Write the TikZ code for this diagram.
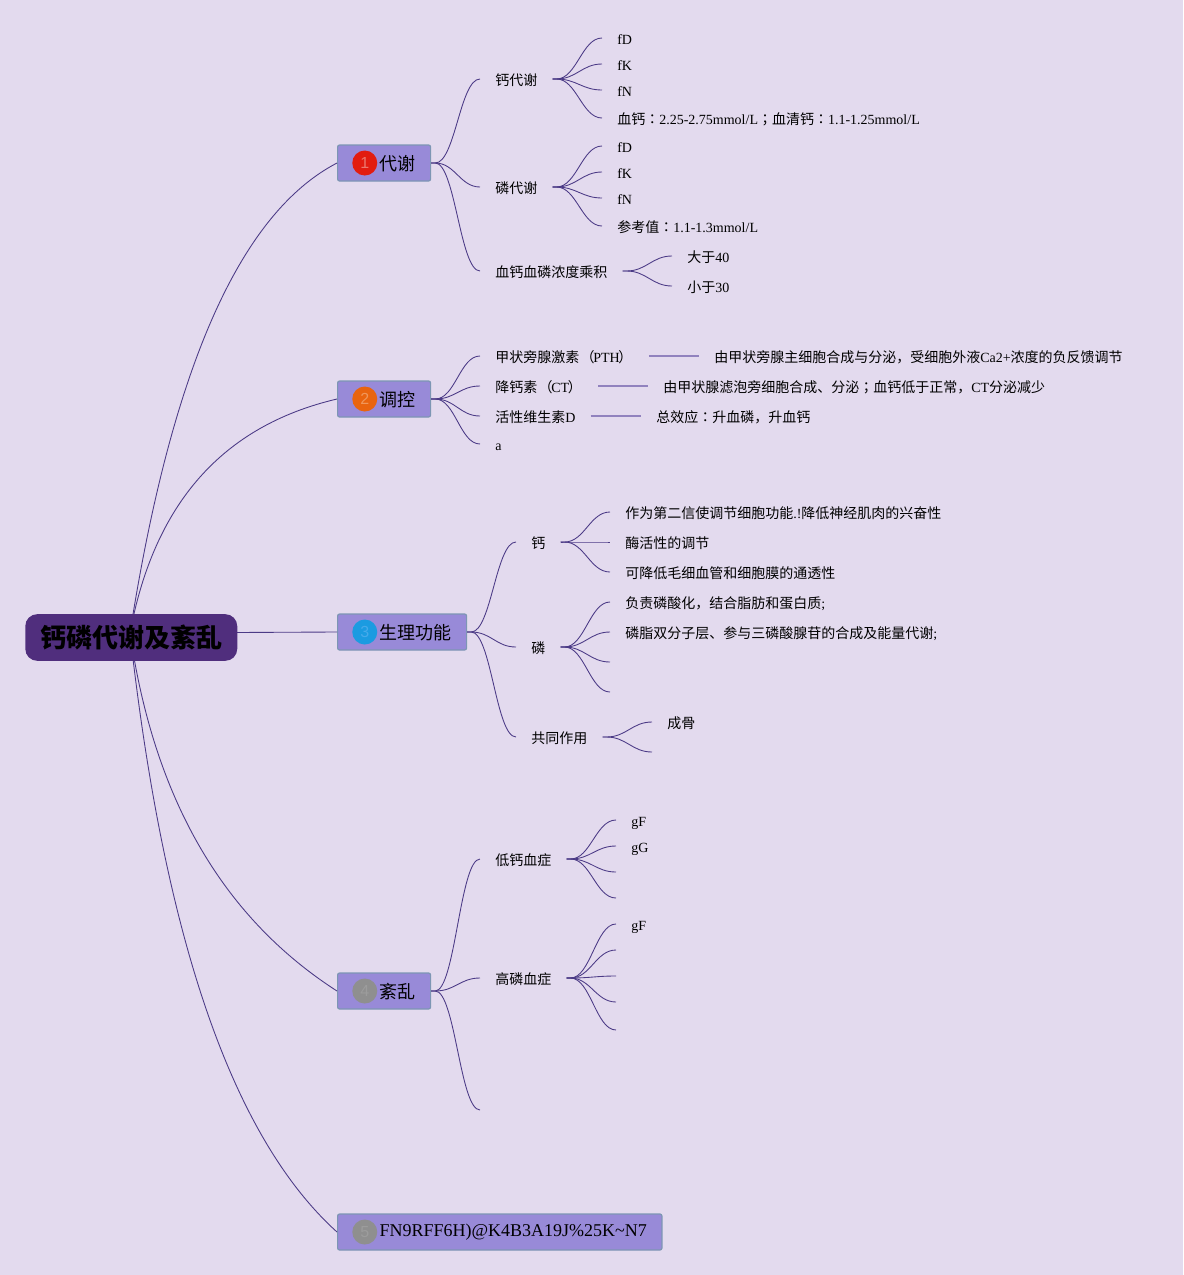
\documentclass[tikz,border=0pt]{standalone}
\usepackage{fontspec}
\setmainfont{Liberation Serif}
\newfontfamily\cjk{Noto Sans CJK SC}
\newfontfamily\cjkp{Noto Sans CJK TC}
\newfontfamily\numf{Liberation Sans}
\newcommand{\zh}[1]{{\cjk #1}}
\newcommand{\zhp}[1]{{\cjkp #1}}
\newcommand{\lparen}{\hspace*{1pt}\zh{（}\hspace*{-1pt}}
\newcommand{\rparen}{\hspace*{-1pt}\zh{）}\hspace*{1pt}}
\usetikzlibrary{positioning}
\definecolor{bgc}{RGB}{227,218,238}
\definecolor{linec}{RGB}{75,58,134}
\definecolor{barc}{RGB}{145,130,190}
\definecolor{boxc}{RGB}{152,138,216}
\definecolor{rimc}{RGB}{125,150,180}
\definecolor{rootc}{RGB}{80,46,125}
\definecolor{redb}{RGB}{226,28,16}
\definecolor{redn}{RGB}{235,120,110}
\definecolor{orab}{RGB}{233,100,15}
\definecolor{oran}{RGB}{240,150,90}
\definecolor{blub}{RGB}{27,155,225}
\definecolor{blun}{RGB}{70,170,235}
\definecolor{gryb}{RGB}{143,143,143}
\definecolor{gryn}{RGB}{156,156,156}
\tikzset{
  leaf/.style={anchor=west,inner xsep=11.25pt,inner ysep=0pt,font=\fontsize{10.5pt}{12pt}\selectfont,text height=10.5pt,text depth=1pt},
  topic/.style={anchor=west,draw=rimc,line width=.9pt,fill=boxc,rounded corners=1.5pt,minimum height=27pt,inner xsep=11.25pt,inner ysep=0pt,font=\fontsize{13.5pt}{15pt}\selectfont,text height=13pt,text depth=1.3pt},
  badge/.style n args={2}{circle,fill=#1,text=#2,minimum size=18.75pt,inner sep=0pt,font=\numf\fontsize{12pt}{14pt}\selectfont},
  link/.style={draw=linec,line width=.65pt},
  bar/.style={draw=barc,line width=1.2pt},
}
\begin{document}
\begin{tikzpicture}[x=.75pt,y=-.75pt]
  \fill[bgc] (0,0) rectangle (1183,1275);
  \coordinate (hub) at (130,633);
  \node[topic] (dx) at (337,163) {\hspace*{20.25pt}\zh{代谢}};
  \node[topic] (tk) at (337,399) {\hspace*{20.25pt}\zh{调控}};
  \node[topic] (sl) at (337,632) {\hspace*{20.25pt}\zh{生理功能}};
  \node[topic] (wl) at (337,991) {\hspace*{20.25pt}\zh{紊乱}};
  \node[topic,text height=7.3pt] (qt) at (337,1232) {\hspace*{20.25pt}FN9RFF6H)@K4B3A19J\%25K\textasciitilde N7};
  \node[badge={redb}{redn},right=15 of dx.west] (b1) {1};
  \node[badge={orab}{oran},right=15 of tk.west] (b2) {2};
  \node[badge={blub}{blun},right=15 of sl.west] (b3) {3};
  \node[badge={gryb}{gryn},right=15 of wl.west] (b4) {4};
  \node[badge={gryb}{gryn},right=15 of qt.west] (b5) {5};
  % metabolism
  \node[leaf] (ca) at (480,79) {\zh{钙代谢}};
  \node[leaf] (cad) at (602,38) {fD};
  \node[leaf] (cak) at (602,64) {fK};
  \node[leaf] (can) at (602,90) {fN};
  \node[leaf] (caz) at (602,118) {\zh{血钙}\zhp{：}2.25-2.75mmol/L\zhp{；}\zh{血清钙}\zhp{：}1.1-1.25mmol/L};
  \node[leaf] (ph) at (480,187) {\zh{磷代谢}};
  \node[leaf] (phd) at (602,146) {fD};
  \node[leaf] (phk) at (602,172) {fK};
  \node[leaf] (phn) at (602,198) {fN};
  \node[leaf] (phz) at (602,226) {\zh{参考值}\zhp{：}1.1-1.3mmol/L};
  \node[leaf] (cj) at (480,271) {\zh{血钙血磷浓度乘积}};
  \node[leaf] (cja) at (672,256) {\zh{大于}40};
  \node[leaf] (cjb) at (672,286) {\zh{小于}30};
  % regulation
  \node[leaf] (pth) at (480,356) {\zh{甲状旁腺激素}\lparen PTH\rparen};
  \node[leaf] (ct) at (480,386) {\zh{降钙素}\lparen CT\rparen};
  \node[leaf] (vd) at (480,416) {\zh{活性维生素}D};
  \node[leaf] (aa) at (480,444) {a};
  \node[leaf] (ptht) at (699,356) {\zh{由甲状旁腺主细胞合成与分泌，受细胞外液}Ca2+\zh{浓度的负反馈调节}};
  \node[leaf] (ctt) at (648,386) {\zh{由甲状腺滤泡旁细胞合成、分泌}\zhp{；}\zh{血钙低于正常，}CT\zh{分泌减少}};
  \node[leaf] (vdt) at (641,416) {\zh{总效应}\zhp{：}\zh{升血磷，升血钙}};
  % function
  \node[leaf] (sca) at (516,542) {\zh{钙}};
  \node[leaf] (scaa) at (610,512) {\zh{作为第二信使调节细胞功能}.!\zh{降低神经肌肉的兴奋性}};
  \node[leaf] (scab) at (610,542) {\zh{酶活性的调节}};
  \node[leaf] (scac) at (610,572) {\zh{可降低毛细血管和细胞膜的通透性}};
  \node[leaf] (sph) at (516,647) {\zh{磷}};
  \node[leaf] (spha) at (610,602) {\zh{负责磷酸化，结合脂肪和蛋白质};};
  \node[leaf] (sphb) at (610,632) {\zh{磷脂双分子层、参与三磷酸腺苷的合成及能量代谢};};
  \coordinate (sphc) at (610,662);
  \coordinate (sphd) at (610,692);
  \node[leaf] (gt) at (516,737) {\zh{共同作用}};
  \node[leaf] (gta) at (652,722) {\zh{成骨}};
  \coordinate (gtb) at (652,752);
  % disorder
  \node[leaf] (dg) at (480,859) {\zh{低钙血症}};
  \node[leaf] (dga) at (616,820) {gF};
  \node[leaf] (dgb) at (616,846) {gG};
  \coordinate (dgc) at (616,872);
  \coordinate (dgd) at (616,898);
  \node[leaf] (gl) at (480,978) {\zh{高磷血症}};
  \node[leaf] (gla) at (616,924) {gF};
  \coordinate (glb) at (616,950);
  \coordinate (glc) at (616,976);
  \coordinate (gld) at (616,1002);
  \coordinate (gle) at (616,1030);
  \coordinate (wlz) at (480,1110);
  \draw[link] (hub) .. controls +(41,-262) and +(-98,51) .. (dx.west);
  \draw[link] (hub) .. controls +(24,-129) and +(-115,27) .. (tk.west);
  \draw[link] (hub) -- (sl.west);
  \draw[link] (hub) .. controls +(24,165) and +(-115,-74) .. (wl.west);
  \draw[link] (hub) .. controls +(34,305) and +(-105,-95) .. (qt.west);
  \foreach \src/\dst in {dx/ca.west,dx/ph.west,dx/cj.west,ca/cad.west,ca/cak.west,ca/can.west,ca/caz.west,
      ph/phd.west,ph/phk.west,ph/phn.west,ph/phz.west,cj/cja.west,cj/cjb.west,
      tk/pth.west,tk/ct.west,tk/vd.west,tk/aa.west,
      sl/sca.west,sl/sph.west,sl/gt.west,sca/scaa.west,sca/scab.west,sca/scac.west,
      sph/spha.west,sph/sphb.west,sph/sphc,sph/sphd,gt/gta.west,gt/gtb,
      wl/dg.west,wl/gl.west,wl/wlz,dg/dga.west,dg/dgb.west,dg/dgc,dg/dgd,
      gl/gla.west,gl/glb,gl/glc,gl/gld,gl/gle}
    \draw[link] (\src.east) -- ++(4,0) .. controls +(20,0) and +(-20,0) .. (\dst);
  \draw[bar] (pth.east) -- (ptht.west);
  \draw[bar] (ct.east) -- (ctt.west);
  \draw[bar] (vd.east) -- (vdt.west);
  \node[anchor=west,fill=rootc,rounded corners=9pt,minimum width=159pt,minimum height=35pt,inner sep=0pt,font=\fontsize{19.5pt}{22pt}\selectfont\bfseries] (root) at (25,637.5) {\raisebox{-.7pt}{\zh{钙磷代谢及紊乱}}};
\end{tikzpicture}
\end{document}
